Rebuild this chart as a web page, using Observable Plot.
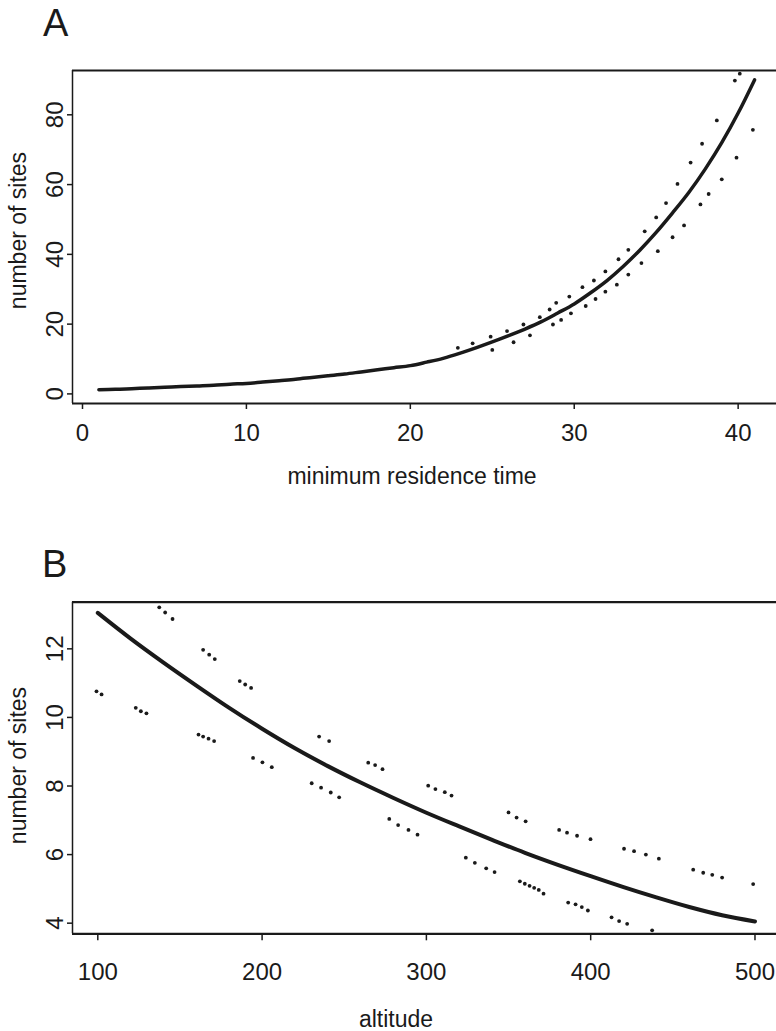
<!DOCTYPE html>
<html>
<head>
<meta charset="utf-8">
<script src="https://cdn.jsdelivr.net/npm/d3@7"></script>
<script src="https://cdn.jsdelivr.net/npm/@observablehq/plot@0.6"></script>
<style>
  body { margin: 0; background: #fff; font-family: "Liberation Sans", Arial, sans-serif; }
  #page { position: relative; width: 776px; height: 1031px; overflow: hidden; background: #fff; }
  .lbl { position: absolute; font-size: 23px; line-height: 23px; height: 23px; color: #1a1a1a; white-space: nowrap; text-align: center; }
  .panel { position: absolute; font-size: 38px; line-height: 38px; color: #1a1a1a; }
  .plot { position: absolute; left: 0; }
</style>
</head>
<body>
<div id="page">
  <div class="panel" style="left:43px; top:4px;">A</div>
  <div class="panel" style="left:42px; top:545px;">B</div>
  <div class="lbl" style="left:212px; top:464.5px; width:400px;">minimum residence time</div>
  <div class="lbl" style="left:196px; top:1008px; width:400px;">altitude</div>
  <div class="lbl" style="left:-132px; top:219px; width:300px; transform:rotate(-90deg);">number of sites</div>
  <div class="lbl" style="left:-132px; top:753.5px; width:300px; transform:rotate(-90deg);">number of sites</div>
  <div id="plotA" class="plot" style="top:0px;"></div>
  <div id="plotB" class="plot" style="top:500px;"></div>
</div>
<script>
// ---------- Panel A data ----------
const residenceTime = [1,2,3,4,5,6,7,8,9,10,11,12,13,14,15,16,17,18,19,20,21,22,23,24,25,26,27,28,29,30,31,32,33,34,35,36,37,38,39,40,41];
const fittedSitesA = [1.2,1.3,1.5,1.7,1.9,2.1,2.3,2.5,2.8,3.0,3.4,3.8,4.2,4.7,5.2,5.7,6.3,6.9,7.5,8.1,9.1,10.2,11.6,13.2,14.9,16.7,18.6,20.7,23.2,25.8,29.0,32.5,36.6,41.2,46.3,51.9,57.8,64.5,72.0,80.5,90.0];
const dotTimeA = [22.9,23.8,24.9,25.0,25.9,26.3,26.9,27.3,27.9,28.5,28.7,28.9,29.2,29.7,29.8,30.5,30.7,31.2,31.3,31.9,31.9,32.6,32.7,33.3,33.3,34.1,34.3,35.1,35.0,36.0,35.6,36.7,36.3,37.7,37.1,38.2,37.8,39.0,38.7,39.9,39.8,40.1,40.9];
const dotSitesA = [13.2,14.5,16.4,12.6,18.0,14.8,19.9,16.8,22.0,24.2,19.9,26.1,21.2,27.9,23.1,30.6,25.2,32.5,27.2,35.1,29.3,31.3,38.6,34.2,41.3,37.5,46.6,40.9,50.6,44.9,54.7,48.3,60.2,54.3,66.3,57.3,71.7,61.5,78.4,67.7,89.8,91.8,75.7];
const xTicksA = [0,10,20,30,40];
const yTicksA = [0,20,40,60,80];
const xDomainA = [-0.61, 42.34];
const yDomainA = [-2.75, 92.7];

// ---------- Panel B data ----------
const altitude = [100,120,140,160,180,200,220,240,260,280,300,320,340,360,380,400,420,440,460,480,500];
const fittedSitesB = [13.05,12.3,11.6,10.93,10.28,9.67,9.1,8.58,8.1,7.65,7.22,6.82,6.43,6.05,5.7,5.37,5.05,4.75,4.47,4.23,4.05];
const dotAltB = [99.2,102.3,137.4,141.0,145.5,123.1,126.2,129.6,164.1,167.8,171.2,161.3,164.1,167.4,170.8,186.4,189.7,193.3,194.5,200.2,205.9,234.7,240.8,230.2,235.9,241.8,246.9,264.6,268.8,273.3,277.4,282.8,289.1,294.6,301.1,305.5,311.2,315.3,324.0,329.5,336.4,341.5,350.0,354.9,360.4,356.9,359.9,362.8,365.6,368.4,371.3,380.8,385.6,391.7,399.9,386.3,390.8,394.6,398.3,420.3,426.4,433.6,441.5,412.7,417.3,422.2,437.4,462.4,468.5,474.0,480.0,498.9];
const dotSitesB = [10.76,10.67,13.21,13.06,12.87,10.28,10.18,10.12,11.97,11.83,11.70,9.50,9.44,9.38,9.31,11.06,10.96,10.86,8.82,8.69,8.55,9.44,9.31,8.08,7.95,7.81,7.67,8.68,8.61,8.49,7.04,6.86,6.72,6.58,8.01,7.91,7.82,7.72,5.91,5.76,5.60,5.49,7.23,7.08,6.97,5.22,5.15,5.09,5.03,4.97,4.86,6.72,6.64,6.55,6.45,4.60,4.55,4.47,4.37,6.17,6.10,6.00,5.88,4.17,4.06,3.98,3.79,5.56,5.47,5.41,5.33,5.14];
const xTicksB = [100,200,300,400,500];
const yTicksB = [4,6,8,10,12];
const xDomainB = [84.6, 513.1];
const yDomainB = [3.69, 13.36];

const ink = "#1a1a1a";
const font = "'Liberation Sans', Arial, sans-serif";

function panel({xs, ys, dx, dy, xDomain, yDomain, xTicks, yTicks, height, marginTop, marginBottom, xPad, xTickSize, lineWidth}) {
  const curve = xs.map((x, i) => ({x, y: ys[i]}));
  const dots = dx.map((x, i) => ({x, y: dy[i]}));
  return Plot.plot({
    width: 776,
    height,
    marginLeft: 72,
    marginRight: 0,
    marginTop,
    marginBottom,
    x: {domain: xDomain},
    y: {domain: yDomain},
    style: {fontFamily: font, fontSize: "24px", color: ink, background: "transparent", overflow: "visible"},
    marks: [
      Plot.ruleY([yDomain[1]], {stroke: ink, strokeWidth: 2.2}),
      Plot.ruleY([yDomain[0]], {stroke: ink, strokeWidth: 2.2}),
      Plot.ruleX([xDomain[0]], {stroke: ink, strokeWidth: 1.5}),
      Plot.axisX({ticks: xTicks, tickSize: xTickSize, tickPadding: xPad, fontSize: 24, label: null, stroke: ink, strokeWidth: 1.5, fill: ink}),
      Plot.axisY({ticks: yTicks, tickSize: 5, tickRotate: -90, tickPadding: 5, fontSize: 24, label: null, stroke: ink, strokeWidth: 1.5, fill: ink}),
      Plot.dot(dots, {x: "x", y: "y", r: 1.9, fill: ink, stroke: null}),
      Plot.line(curve, {x: "x", y: "y", stroke: ink, strokeWidth: lineWidth, curve: "monotone-x"})
    ]
  });
}

document.getElementById("plotA").append(panel({
  xs: residenceTime, ys: fittedSitesA, dx: dotTimeA, dy: dotSitesA,
  xDomain: xDomainA, yDomain: yDomainA, xTicks: xTicksA, yTicks: yTicksA,
  height: 500, marginTop: 70, marginBottom: 97, xPad: 14.2, xTickSize: 6, lineWidth: 3.5
}));

document.getElementById("plotB").append(panel({
  xs: altitude, ys: fittedSitesB, dx: dotAltB, dy: dotSitesB,
  xDomain: xDomainB, yDomain: yDomainB, xTicks: xTicksB, yTicks: yTicksB,
  height: 531, marginTop: 101.7, marginBottom: 97.7, xPad: 21.9, xTickSize: 7, lineWidth: 4
}));
</script>
</body>
</html>
